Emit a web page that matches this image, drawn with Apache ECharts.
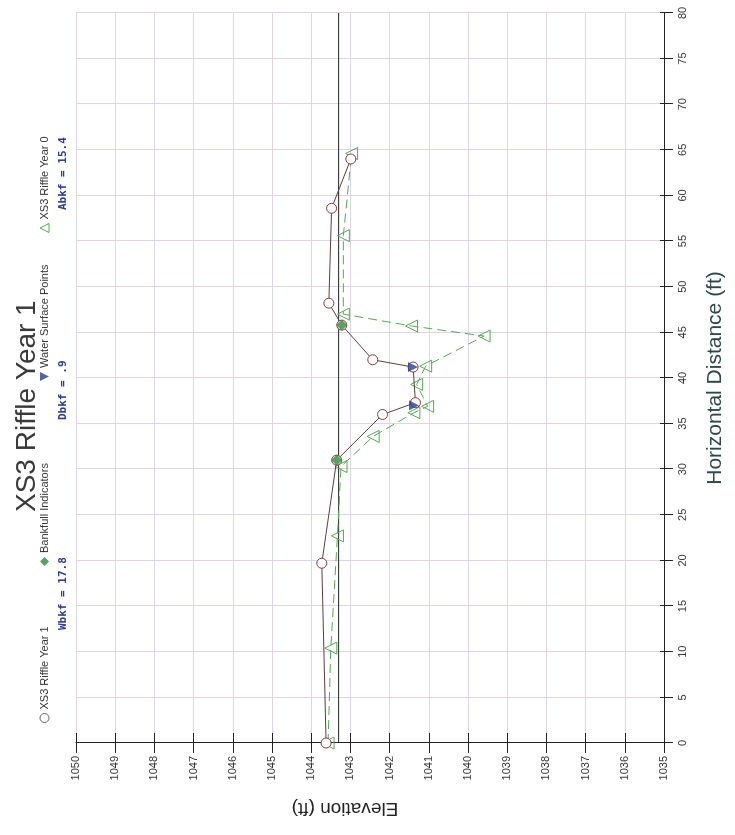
<!DOCTYPE html>
<html>
<head>
<meta charset="utf-8">
<script src="https://cdn.jsdelivr.net/npm/echarts/dist/echarts.min.js"></script>
<style>
html,body{margin:0;padding:0;width:735px;height:835px;overflow:hidden;background:#fff}
#chart{position:absolute;left:-50px;top:50px;width:835px;height:735px;transform:rotate(-90deg);transform-origin:50% 50%}
</style>
</head>
<body>
<div id="chart"></div>
<script>
// Horizontal distance (ft) and elevation (ft) readings
const year1Dist = [0, 19.7, 31.0, 36.0, 37.3, 41.2, 42.0, 45.8, 48.2, 58.6, 64.0];
const year1Elev = [1043.62, 1043.73, 1043.35, 1042.18, 1041.34, 1041.40, 1042.43, 1043.22, 1043.55, 1043.48, 1042.99];
const year0Dist = [0, 10.4, 22.7, 30.3, 33.6, 36.2, 36.9, 39.3, 41.3, 44.6, 45.7, 47.0, 55.6, 64.6];
const year0Elev = [1043.57, 1043.50, 1043.33, 1043.24, 1042.42, 1041.38, 1041.03, 1041.31, 1041.08, 1039.59, 1041.44, 1043.18, 1043.18, 1042.97];
const bankfullDist = [31.0, 45.8];
const bankfullElev = [1043.35, 1043.22];
const waterDist = [37.0, 41.2];
const waterElev = [1041.38, 1041.40];
const bankfullLineDist = [0, 80];
const bankfullLineElev = [1043.3, 1043.3];
const annotations = ['Wbkf = 17.8', 'Dbkf = .9', 'Abkf = 15.4'];

const zip = (a, b) => a.map((v, i) => [v, b[i]]);
const font = 'Liberation Sans';
const gridColor = '#ddd4e6';
const invTri = 'path://M0,0L10,0L5,10Z';

const chart = echarts.init(document.getElementById('chart'), null, {renderer: 'canvas'});
chart.setOption({
  backgroundColor: '#ffffff',
  animation: false,
  title: {
    text: 'XS3 Riffle Year 1', left: 318, top: 8,
    textStyle: {fontFamily: font, fontSize: 28, fontWeight: 'normal', color: '#3a3a3a'}
  },
  legend: [
    {data: [{name: 'XS3 Riffle Year 1', icon: 'circle', itemStyle: {color: '#fff', borderColor: '#666', borderWidth: 1}}], left: 112, top: 39},
    {data: [{name: 'Bankfull Indicators', icon: 'diamond', itemStyle: {color: '#2e8b3e'}}], left: 269, top: 39},
    {data: [{name: 'Water Surface Points', icon: invTri, itemStyle: {color: '#2b3d8f'}}], left: 454, top: 39},
    {data: [{name: 'XS3 Riffle Year 0', icon: 'triangle', itemStyle: {color: '#fff', borderColor: '#58a858', borderWidth: 1}}], left: 602, top: 39}
  ].map(l => Object.assign(l, {
    itemWidth: 9, itemHeight: 9, itemGap: 4, padding: 0, selectedMode: false,
    textStyle: {fontFamily: font, fontSize: 11, color: '#333', padding: [0, 0, 0, -1]}
  })),
  graphic: [
    {type: 'text', left: 205, top: 58, style: {text: annotations[0], font: 'bold 11px "DejaVu Sans Mono"', fill: '#2b3d8f'}},
    {type: 'text', left: 415, top: 58, style: {text: annotations[1], font: 'bold 11px "DejaVu Sans Mono"', fill: '#2b3d8f'}},
    {type: 'text', left: 625, top: 58, style: {text: annotations[2], font: 'bold 11px "DejaVu Sans Mono"', fill: '#2b3d8f'}}
  ],
  grid: {left: 92, right: 13, top: 76, bottom: 71},
  xAxis: [
    {
      type: 'value', min: 0, max: 80, interval: 5, position: 'bottom',
      name: 'Horizontal Distance (ft)', nameLocation: 'middle', nameGap: 41,
      nameTextStyle: {fontFamily: font, fontSize: 21, color: '#2e4848'},
      axisLine: {show: true, onZero: false, lineStyle: {color: '#222', width: 1}},
      axisTick: {show: true, length: 9, lineStyle: {color: '#222'}},
      axisLabel: {fontFamily: font, fontSize: 11, color: '#333', margin: 13},
      splitLine: {show: true, lineStyle: {color: gridColor, width: 1}}
    },
    {
      type: 'value', min: 0, max: 80, interval: 5, position: 'bottom',
      axisLine: {show: false}, axisLabel: {show: false}, splitLine: {show: false},
      axisTick: {show: true, inside: true, length: 4, lineStyle: {color: '#222'}}
    }
  ],
  yAxis: [
    {
      type: 'value', min: 1035, max: 1050, interval: 1, position: 'left',
      name: 'Elevation (ft)', nameLocation: 'middle', nameRotate: 90, nameGap: 56,
      nameTextStyle: {fontFamily: font, fontSize: 19, color: '#222', padding: [0, 0, 0, 50]},
      axisLine: {show: true, onZero: false, lineStyle: {color: '#222', width: 1}},
      axisTick: {show: true, length: 10, lineStyle: {color: '#222'}},
      axisLabel: {fontFamily: font, fontSize: 11, color: '#333', margin: 13, formatter: v => String(v)},
      splitLine: {show: true, lineStyle: {color: gridColor, width: 1}}
    },
    {
      type: 'value', min: 1035, max: 1050, interval: 1, position: 'left',
      axisLine: {show: false}, axisLabel: {show: false}, splitLine: {show: false},
      axisTick: {show: true, inside: true, length: 10, lineStyle: {color: '#222'}}
    }
  ],
  series: [
    {
      name: 'Bankfull Elevation', type: 'line', data: zip(bankfullLineDist, bankfullLineElev),
      symbol: 'none', lineStyle: {color: '#222', width: 1}, z: 1, silent: true
    },
    {
      name: 'XS3 Riffle Year 0', type: 'line', data: zip(year0Dist, year0Elev),
      symbol: 'triangle', symbolSize: 12,
      itemStyle: {color: 'rgba(255,255,255,0)', borderColor: '#58a858', borderWidth: 1},
      lineStyle: {color: '#58a858', width: 1, type: [9, 5]}, z: 2
    },
    {
      name: 'XS3 Riffle Year 1', type: 'line', data: zip(year1Dist, year1Elev),
      symbol: 'circle', symbolSize: 10,
      itemStyle: {color: '#fff', borderColor: '#8b3a3a', borderWidth: 1},
      lineStyle: {color: '#5a3f3f', width: 1}, z: 3
    },
    {
      name: 'Bankfull Indicators', type: 'scatter', data: zip(bankfullDist, bankfullElev),
      symbol: 'diamond', symbolSize: 11, itemStyle: {color: '#2e8b3e'}, z: 5
    },
    {
      name: 'Water Surface Points', type: 'scatter', data: zip(waterDist, waterElev),
      symbol: invTri, symbolSize: 10, itemStyle: {color: '#2b3d8f'}, z: 5
    }
  ]
});
</script>
</body>
</html>
